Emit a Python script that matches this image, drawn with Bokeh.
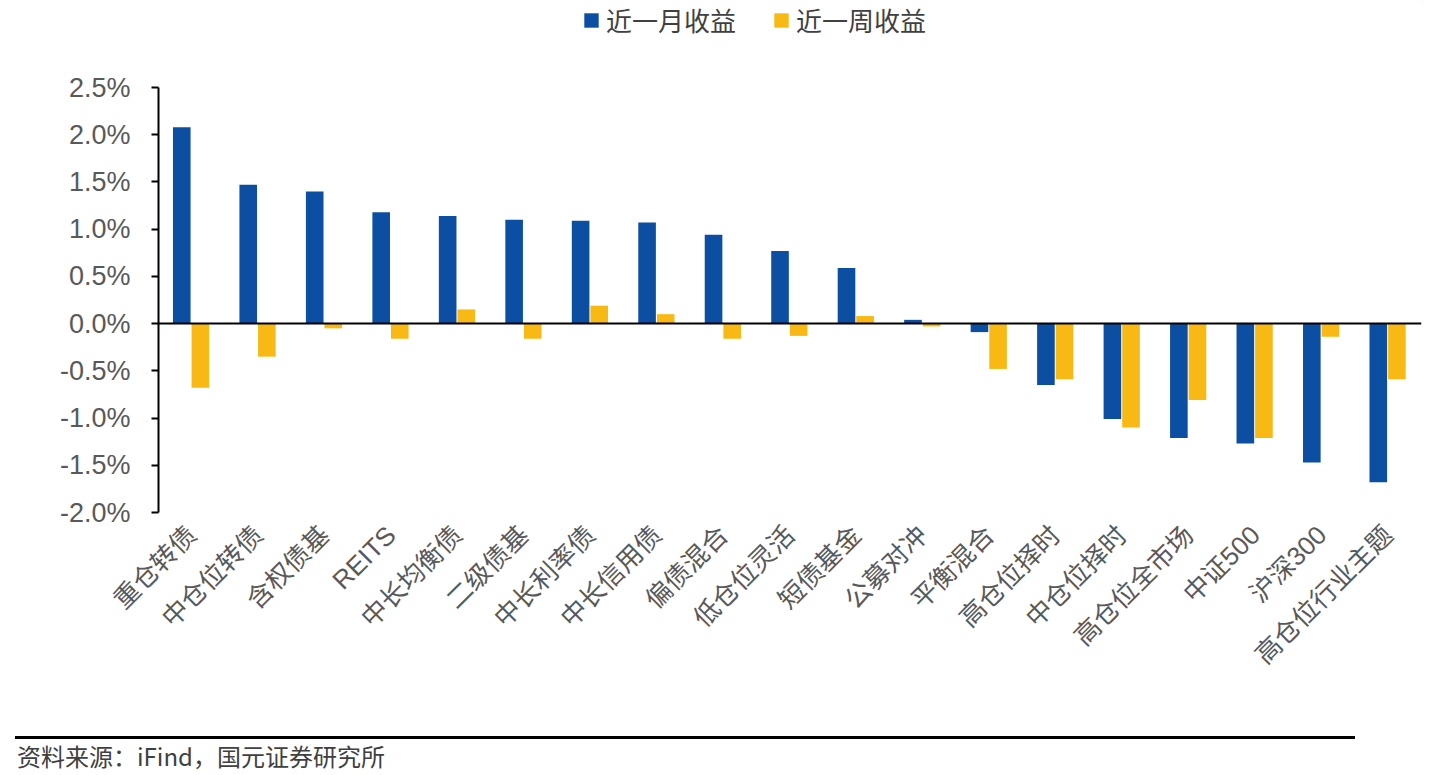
from math import pi
from bokeh.plotting import figure
from bokeh.models import (ColumnDataSource, FactorRange, Range1d, FixedTicker, PrintfTickFormatter,
                          Span, Legend, LegendItem, Div)
from bokeh.transform import dodge
from bokeh.layouts import column
from bokeh.embed import file_html
from bokeh.resources import INLINE

categories = ["重仓转债", "中仓位转债", "含权债基", "REITS", "中长均衡债", "二级债基", "中长利率债",
              "中长信用债", "偏债混合", "低仓位灵活", "短债基金", "公募对冲", "平衡混合", "高仓位择时",
              "中仓位择时", "高仓位全市场", "中证500", "沪深300", "高仓位行业主题"]
month_ret = [2.08, 1.47, 1.40, 1.18, 1.14, 1.10, 1.09, 1.07, 0.94, 0.77, 0.59, 0.04, -0.09,
             -0.65, -1.01, -1.21, -1.27, -1.47, -1.68]
week_ret = [-0.68, -0.35, -0.05, -0.16, 0.15, -0.16, 0.19, 0.10, -0.16, -0.13, 0.08, -0.03,
            -0.48, -0.59, -1.10, -0.81, -1.21, -0.14, -0.59]
y_ticks = [-2.0, -1.5, -1.0, -0.5, 0.0, 0.5, 1.0, 1.5, 2.0, 2.5]
series_names = ["近一月收益", "近一周收益"]

BLUE = "#0C4EA2"
YELLOW = "#F9B914"
GRAY = "#595959"

src = ColumnDataSource(dict(cat=categories, m=month_ret, w=week_ret))

# ---- legend strip ----
lg = figure(width=1430, height=40, x_range=Range1d(0, 1), y_range=Range1d(0, 1),
            output_backend="svg", toolbar_location=None, x_axis_location=None, y_axis_location=None,
            min_border_left=0, min_border_right=0, min_border_top=0, min_border_bottom=0)
lg.outline_line_color = None
lg.grid.grid_line_color = None
# renderers only feed the legend swatches; their bars sit outside the visible range
hidden = ColumnDataSource(dict(x=[5.0], top=[5.0]))
lr1 = lg.vbar(x="x", top="top", bottom=4.0, width=0.1, source=hidden, fill_color=BLUE, line_color=None)
lr2 = lg.vbar(x="x", top="top", bottom=4.0, width=0.1, source=hidden, fill_color=YELLOW, line_color=None)
legend = Legend(items=[LegendItem(label=series_names[0], renderers=[lr1]),
                       LegendItem(label=series_names[1], renderers=[lr2])],
                location=(424, 2), orientation="horizontal",
                label_text_font="Noto Sans CJK SC", label_text_font_size="26px",
                label_text_color="#404040", glyph_width=18, glyph_height=18,
                spacing=36, padding=0, margin=0, border_line_color=None,
                background_fill_alpha=0, label_standoff=6)
lg.add_layout(legend)

# ---- main chart ----
p = figure(x_range=FactorRange(*categories, range_padding=0), y_range=Range1d(-2.0, 2.5),
           width=1430, height=660, output_backend="svg", toolbar_location=None,
           min_border_left=158, min_border_top=47, min_border_bottom=188, min_border_right=9)
p.outline_line_color = None
p.xgrid.grid_line_color = None
p.ygrid.grid_line_color = None

r1 = p.vbar(x=dodge("cat", -0.15, range=p.x_range), top="m", width=0.265, source=src,
            fill_color=BLUE, line_color=None)
r2 = p.vbar(x=dodge("cat", 0.13, range=p.x_range), top="w", width=0.265, source=src,
            fill_color=YELLOW, line_color=None)

p.add_layout(Span(location=0, dimension="width", line_color="black", line_width=2))

ya = p.yaxis[0]
ya.ticker = FixedTicker(ticks=y_ticks)
ya.formatter = PrintfTickFormatter(format="%.1f%%")
ya.axis_line_color = "black"
ya.axis_line_width = 2
ya.major_tick_line_color = "black"
ya.major_tick_line_width = 2
ya.major_tick_out = 7
ya.major_tick_in = 0
ya.minor_tick_line_color = None
ya.major_label_text_font = "Liberation Sans"
ya.major_label_text_font_size = "27px"
ya.major_label_text_color = GRAY
ya.major_label_standoff = 21

xa = p.xaxis[0]
xa.axis_line_color = None
xa.major_tick_line_color = None
xa.minor_tick_line_color = None
xa.major_label_orientation = pi / 4
xa.major_label_text_font = "Liberation Sans, Noto Sans CJK SC"
xa.major_label_text_font_size = "26px"
xa.major_label_text_color = GRAY
xa.major_label_standoff = 12

footer = Div(text='<div style="margin-top:31px;margin-left:10px;width:1340px;border-top:3px solid #000;'
                  'padding-top:5px;padding-left:2px;font-family:\'Noto Sans CJK SC\';font-size:24px;'
                  'color:#404040;line-height:24px;white-space:nowrap">资料来源：iFind，国元证券研究所</div>',
             width=1430, height=70)

layout = column(lg, p, footer)
open("out.html", "w").write(file_html(layout, INLINE))
